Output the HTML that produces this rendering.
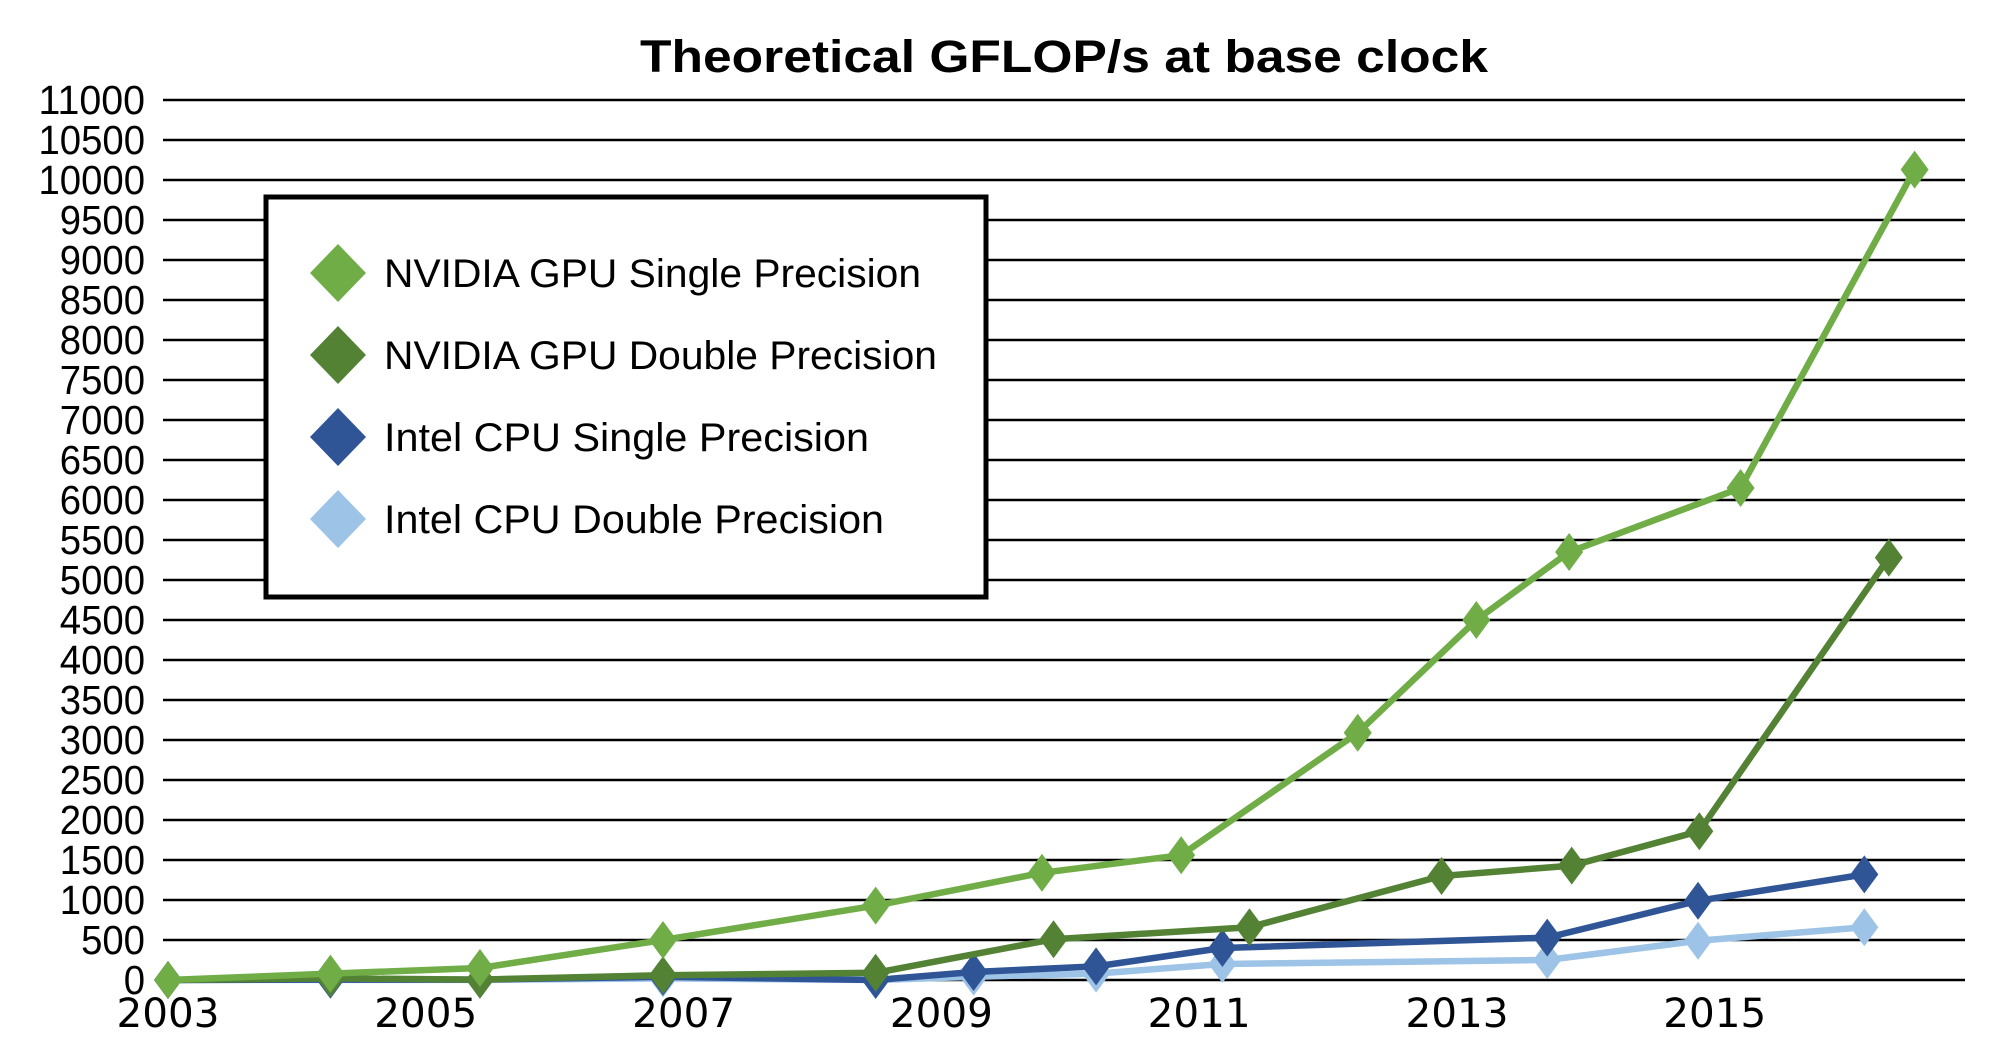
<!DOCTYPE html>
<html><head><meta charset="utf-8"><style>
html,body{margin:0;padding:0;background:#fff;}
svg{display:block;font-family:"Liberation Sans",sans-serif;}
</style></head><body>
<svg id="chart" width="2000" height="1063" viewBox="0 0 2000 1063">
<text x="1064" y="72" font-size="45" font-weight="bold" text-anchor="middle" textLength="848" lengthAdjust="spacingAndGlyphs">Theoretical GFLOP/s at base clock</text>
<g id="grid"></g>
<g id="yticks"></g>
<g id="xticks"></g>
<g id="series"></g>
<g id="legend"></g>
</svg>
<script>
const yTicks = [0,500,1000,1500,2000,2500,3000,3500,4000,4500,5000,5500,6000,6500,7000,7500,8000,8500,9000,9500,10000,10500,11000];
const xTickLabels = [2003,2005,2007,2009,2011,2013,2015];
const nvSpYears = [2003,2004.26,2005.42,2006.84,2008.49,2009.78,2010.86,2012.23,2013.15,2013.87,2015.2,2016.55];
const nvSpValues = [0,80,150,500,930,1340,1560,3090,4500,5350,6150,10130];
const nvDpYears = [2003,2004.26,2005.42,2006.84,2008.49,2009.87,2011.39,2012.88,2013.89,2014.88,2016.35];
const nvDpValues = [0,20,5,60,90,510,660,1300,1430,1860,5280];
const inSpYears = [2003,2004.26,2005.42,2006.84,2008.49,2009.25,2010.2,2011.18,2013.7,2014.87,2016.16];
const inSpValues = [0,5,5,40,0,100,170,400,530,990,1320];
const inDpYears = [2003,2004.26,2005.42,2006.84,2008.49,2009.25,2010.2,2011.18,2013.7,2014.87,2016.16];
const inDpValues = [0,2,2,20,0,40,80,200,250,490,660];
const seriesNames = ["NVIDIA GPU Single Precision","NVIDIA GPU Double Precision","Intel CPU Single Precision","Intel CPU Double Precision"];
const seriesColors = ["#70ad47","#548235","#2f5597","#9dc3e6"];

const NS="http://www.w3.org/2000/svg";
const X0=168, XPER=128.9, Y0=980, YPER=0.08, GL=163, GR=1965;
function xs(yr){return X0+(yr-2003)*XPER;}
function ys(v){return Y0-v*YPER;}
function mk(tag,attrs,parent){const e=document.createElementNS(NS,tag);for(const k in attrs)e.setAttribute(k,attrs[k]);parent.appendChild(e);return e;}

const grid=document.getElementById('grid'), yt=document.getElementById('yticks'), xt=document.getElementById('xticks');
yTicks.forEach(v=>{
  const l=mk('line',{x1:GL,x2:GR,y1:ys(v),y2:ys(v),stroke:'#000','stroke-width':2.5},grid);
  
  
  const s=String(v);
  const t=mk('text',{x:145,y:ys(v)+14,'font-size':41,'text-anchor':'end',textLength:s.length*21.3,lengthAdjust:'spacingAndGlyphs'},yt);
  t.textContent=s;
  
  
});
xTickLabels.forEach(yr=>{
  const t=mk('text',{x:xs(yr),y:1027,'font-size':40,'text-anchor':'middle','font-family':'DejaVu Sans, sans-serif',textLength:103,lengthAdjust:'spacingAndGlyphs'},xt);
  t.textContent=yr;
  
  
});

const sg=document.getElementById('series');
const all=[[inDpYears,inDpValues],[inSpYears,inSpValues],[nvDpYears,nvDpValues],[nvSpYears,nvSpValues]];
const idx=[3,2,1,0];
all.forEach((s,i)=>{
  const c=seriesColors[idx[i]];
  const g=mk('g',{},sg);
  
  
  const pts=s[0].map((yr,j)=>xs(yr)+','+ys(s[1][j])).join(' ');
  const pl=mk('polyline',{points:pts,fill:'none',stroke:c,'stroke-width':6.5,'stroke-linejoin':'round'},g);
  
  
  s[0].forEach((yr,j)=>{
    const x=xs(yr), y=ys(s[1][j]);
    const m=mk('polygon',{points:`${x},${y-19} ${x+14},${y} ${x},${y+19} ${x-14},${y}`,fill:c},g);
    
    
  });
});

const lg=document.getElementById('legend');
const box=mk('rect',{x:266,y:197,width:720,height:400,fill:'#fff',stroke:'#000','stroke-width':5},lg);


const lens=[537,553,485,500];
seriesNames.forEach((n,i)=>{
  const y=273+i*82;
  const g=mk('g',{},lg);
  
  
  mk('polygon',{points:`338,${y-29} 366,${y} 338,${y+29} 310,${y}`,fill:seriesColors[i]},g);
  const t=mk('text',{x:384,y:y+14,'font-size':40,textLength:lens[i],lengthAdjust:'spacingAndGlyphs'},g);
  t.textContent=n;
});
</script>
</body></html>
